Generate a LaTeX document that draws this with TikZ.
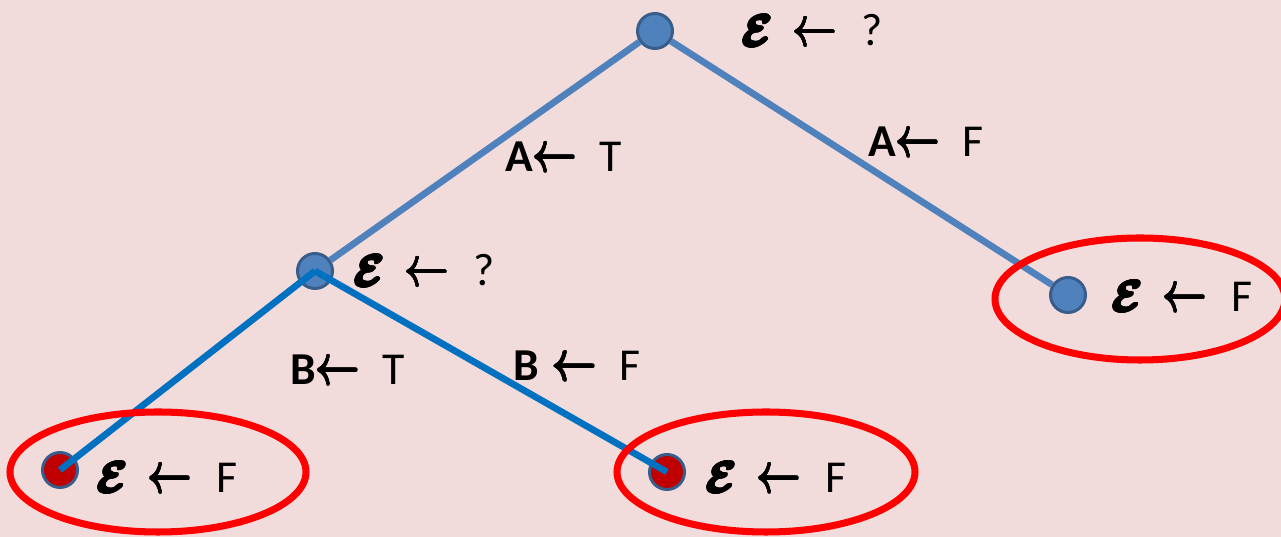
\documentclass[tikz,border=0pt]{standalone}
\usepackage{amsmath}
\usepackage{amssymb}
\usepackage{fontspec}
\usepackage{contour}
\setmainfont{Carlito}
\usetikzlibrary{positioning,calc}

\definecolor{bgpink}{HTML}{F2DCDB}
\definecolor{nodeblue}{HTML}{4F81BD}
\definecolor{rimblue}{HTML}{385D8A}
\definecolor{treeblue}{HTML}{4F81BD}
\definecolor{leafblue}{HTML}{0070C0}
\definecolor{leafred}{HTML}{C00000}
\definecolor{ringred}{HTML}{FF0000}

\contourlength{0.7pt}
\contournumber{16}
\newcommand{\errE}{\contour{black}{$\boldsymbol{\mathcal{E}}$}}
\newcommand{\assign}{{\contourlength{0.5pt}\contour{black}{\scalebox{1.0}[1.3]{$\leftarrow$}}}}

\begin{document}
\begin{tikzpicture}[
  vtx/.style={circle,draw=rimblue,line width=1.7pt,fill=#1,minimum size=0.70cm,inner sep=0pt},
  vlab/.style={inner sep=0pt,font=\fontsize{26}{30}\selectfont,anchor=west},
  elab/.style={inner sep=0pt,font=\fontsize{26}{30}\selectfont,anchor=west},
  upper/.style={line width=3.8pt,treeblue},
  lower/.style={line width=3.8pt,leafblue},
  ring/.style={line width=4pt,ringred},
]

% ==== BACKGROUND ====
\useasboundingbox (0,0) rectangle (25.62,10.74);
\fill[bgpink] (0,0) rectangle (25.62,10.74);

% ==== TREE NODES ====
\node[vtx=nodeblue] (root) at (13.10,10.12) {};
\node[vtx=nodeblue] (mid) at (6.30,5.32) {};
\node[vtx=nodeblue] (rleaf) at (21.36,4.84) {};
\node[vtx=leafred] (lleaf) at (1.20,1.34) {};
\node[vtx=leafred] (mleaf) at (13.34,1.30) {};

% Assignments next to the nodes
\node[vlab,right=1.36cm of root] (rootlab) {\errE\hspace{0.45em}\assign\hspace{0.55em}?};
\node[vlab,right=0.40cm of mid] (midlab) {\errE\hspace{0.45em}\assign\hspace{0.55em}?};
\node[vlab,right=0.50cm of rleaf,yshift=-0.04cm] (rleaflab) {\errE\hspace{0.45em}\assign\hspace{0.55em}F};
\node[vlab,right=0.36cm of lleaf,yshift=-0.16cm] (lleaflab) {\errE\hspace{0.45em}\assign\hspace{0.55em}F};
\node[vlab,right=0.40cm of mleaf,yshift=-0.12cm] (mleaflab) {\errE\hspace{0.45em}\assign\hspace{0.55em}F};

% ==== BRANCHES ====
\draw[upper] (root) -- (mid);
\draw[upper] (root) -- (rleaf);
\draw[lower] (mid.center) -- (lleaf.center);
\draw[lower] (mid.center) -- (mleaf.center);

% Branch labels
\node[elab] (at) at (10.10,7.60) {\textbf{A}\assign\hspace{0.5em}T};
\node[elab] (af) at (17.36,7.90) {\textbf{A}\assign\hspace{0.5em}F};
\node[elab] (bt) at (5.80,3.34) {\textbf{B}\assign\hspace{0.5em}T};
\node[elab] (bf) at (10.26,3.42) {\textbf{B}\hspace{0.3em}\assign\hspace{0.5em}F};

% ==== FALSE LEAVES ====
\draw[ring] (3.16,1.30) ellipse (2.96 and 1.20);
\draw[ring] (15.32,1.30) ellipse (2.98 and 1.20);
\draw[ring] (22.80,4.76) ellipse (2.90 and 1.22);

\end{tikzpicture}
\end{document}
